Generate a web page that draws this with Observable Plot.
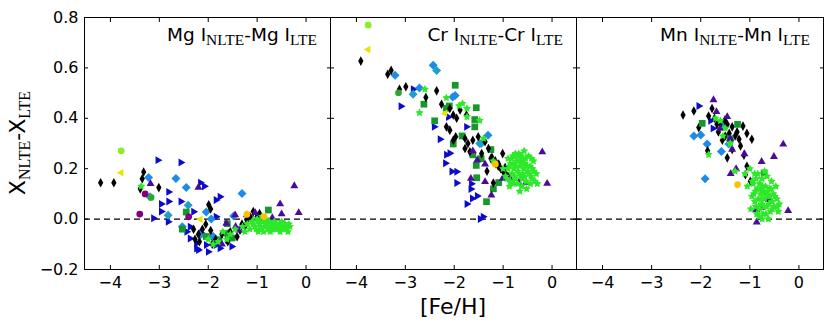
<!DOCTYPE html>
<html><head><meta charset="utf-8">
<script src="https://cdn.jsdelivr.net/npm/d3@7"></script>
<script src="https://cdn.jsdelivr.net/npm/@observablehq/plot@0.6"></script>
<style>
body{margin:0;background:#fff;}
#wrap{position:relative;width:830px;height:324px;}
.panel{position:absolute;top:0;}
.panel svg{overflow:visible;}
</style></head><body><div id="wrap"></div>
<script>
// ---------- ticks ----------
const xTicks = [-4, -3, -2, -1, 0];
const yTicks = [-0.2, 0.0, 0.2, 0.4, 0.6, 0.8];
const xDomain = [-4.53, 0.5];
const yDomain = [-0.2, 0.8];
const panelTitles = [["Mg I", "NLTE", "-Mg I", "LTE"], ["Cr I", "NLTE", "-Cr I", "LTE"], ["Mn I", "NLTE", "-Mn I", "LTE"]];

// ---------- Mg panel ----------
const mgBlack = [[-4.20,0.144],[-3.93,0.144],[-3.32,0.187],[-3.39,0.120],[-3.01,0.125],[-3.35,0.16],[-1.99,0.057],[-1.95,0.04],
 [-2.30,-0.040],[-2.20,-0.060],[-2.27,-0.080],[-1.95,-0.045],[-1.92,-0.100],[-1.72,-0.060],[-2.18,-0.090],[-2.12,-0.040],[-2.05,-0.02],[-1.85,-0.08],
 [-1.21,-0.004],[-1.08,0.030],[-0.95,0.022],[-1.35,-0.044],[-1.41,-0.070],[-1.31,-0.020],[-1.15,0.01],[-1.00,0.01],[-1.25,-0.03],[-1.6,-0.09],[-1.55,-0.05]];
const mgBlueTri = [[-3.03,0.234],[-2.56,0.225],[-2.16,0.144],[-2.08,0.130],[-2.81,0.108],[-1.76,0.089],[-1.84,0.076],[-2.96,0.060],[-2.81,0.070],
 [-2.56,0.070],[-2.96,0.030],[-2.30,0.029],[-3.12,0.003],[-1.84,0.009],[-2.82,-0.011],[-2.44,-0.050],[-2.37,-0.077],[-2.24,-0.097],[-2.20,-0.123],
 [-2.00,-0.130],[-1.76,-0.116],[-1.52,-0.109],[-2.04,-0.103],[-1.90,-0.069],[-2.37,-0.030],[-1.61,-0.082],[-2.14,-0.056],[-2.24,-0.117],[-1.84,-0.103]];
const mgLightBlue = [[-3.22,0.165],[-2.66,0.161],[-2.45,0.125],[-1.31,0.102],[-2.04,0.028],[-1.94,0.000],[-2.53,-0.030],[-2.16,-0.063],[-1.90,-0.069],[-1.48,0.012]];
const mgTeal = [[-3.19,0.089],[-2.41,0.055],[-2.82,0.015],[-1.58,-0.056]];
const mgPurpleCircle = [[-3.40,0.020],[-3.29,0.100],[-2.40,0.009]];
const mgGreenCircle = [[-3.17,0.086]];
const mgIndigo = [[-0.24,0.132],[-0.15,0.025],[-2.20,0.126],[-3.18,0.140],[-1.45,0.016],[-1.04,0.025],[-0.53,0.060],[-0.50,0.020],[-0.69,0.005],
 [-1.72,-0.100],[-1.44,-0.030],[-1.37,-0.044],[-1.63,-0.017],[-1.21,0.016]];
const mgGreenSquare = [[-0.77,0.036],[-2.53,-0.040],[-2.45,0.028],[-1.61,-0.018],[-1.61,-0.056],[-1.14,0.005],[-0.94,-0.004],[-2.04,-0.069],[-1.51,-0.075],[-1.78,-0.082]];
const mgStar = [[-1.10,-0.01],[-1.05,-0.03],[-1.00,0.00],[-0.95,-0.02],[-0.92,-0.04],[-0.88,-0.01],[-0.85,-0.03],[-0.82,0.00],[-0.80,-0.02],[-0.78,-0.04],
 [-0.75,-0.01],[-0.72,-0.03],[-0.70,-0.02],[-0.68,-0.04],[-0.65,-0.01],[-0.62,-0.03],[-0.60,-0.02],[-0.58,-0.04],[-0.55,-0.02],[-0.52,-0.03],[-0.50,-0.01],
 [-0.48,-0.04],[-0.45,-0.02],[-0.42,-0.03],[-0.40,-0.04],[-0.38,-0.03],[-0.35,-0.02],[-0.90,0.01],[-0.98,-0.05],[-1.15,-0.04],[-1.20,-0.02],[-1.25,-0.05],
 [-1.30,-0.03],[-1.55,-0.06],[-1.62,-0.08],[-1.70,-0.05],[-1.80,-0.09],[-1.45,-0.04],[-3.37,0.13],[-2.00,-0.08],[-1.90,-0.10],
 [-1.08,-0.02],[-1.02,-0.04],[-0.97,-0.01],[-0.93,-0.03],[-0.87,-0.05],[-0.83,-0.02],[-0.77,-0.03],[-0.73,-0.05],[-0.67,-0.02],[-0.63,-0.04],
 [-0.57,-0.03],[-0.53,-0.05],[-0.47,-0.03],[-0.43,-0.02],[-0.37,-0.05],[-0.33,-0.03]];
const mgYellowGreenCircle = [[-3.78,0.271]];
const mgYellowTri = [[-3.78,0.184],[-2.16,-0.001]];
const mgOrange = [[-1.21,0.019],[-0.86,0.010]];

// ---------- Cr panel ----------
const crBlack = [[-3.91,0.627],[-3.36,0.575],[-3.29,0.590],[-3.12,0.515],[-2.99,0.525],[-2.58,0.483],[-2.36,0.509],[-2.26,0.456],
 [-2.09,0.439],[-2.02,0.413],[-1.88,0.433],[-1.95,0.400],[-1.75,0.413],[-2.16,0.366],[-2.09,0.353],[-2.02,0.313],[-1.97,0.327],[-1.78,0.320],
 [-1.72,0.300],[-1.62,0.313],[-1.51,0.327],[-1.78,0.280],[-1.68,0.267],[-1.37,0.307],[-1.30,0.280],[-1.44,0.260],[-1.33,0.190],[-1.20,0.143],
 [-1.01,0.260],[-1.16,0.231],[-1.09,0.218],[-0.96,0.205],[-1.23,0.245],[-1.25,0.24],[-1.20,0.23],[-1.15,0.22],[-1.10,0.21],[-1.05,0.20],[-1.00,0.19],[-0.95,0.18],[-0.90,0.17]];
const crBlueTri = [[-3.09,0.448],[-2.84,0.515],[-2.41,0.366],[-2.29,0.317],[-2.12,0.405],[-2.16,0.255],[-2.09,0.261],[-2.18,0.222],[-2.05,0.189],
 [-1.95,0.188],[-1.95,0.143],[-1.66,0.119],[-1.63,0.082],[-1.53,0.092],[-1.74,0.060],[-1.47,0.000],[-1.41,0.009],[-1.75,0.366],[-1.65,0.14]];
const crLightBlue = [[-3.21,0.571],[-2.43,0.611],[-2.71,0.520],[-2.03,0.485],[-1.98,0.490],[-1.31,0.333]];
const crTeal = [[-2.84,0.495],[-2.36,0.590],[-1.48,0.300],[-1.45,0.30]];
const crGreenCircle = [[-3.14,0.501]];
const crGreenSquare = [[-1.98,0.531],[-2.62,0.456],[-2.40,0.390],[-2.16,0.440],[-2.10,0.449],[-1.84,0.330],[-1.55,0.442],[-1.58,0.395],[-1.58,0.366],
 [-1.25,0.276],[-1.55,0.213],[-1.54,0.164],[-1.34,0.069],[-1.09,0.145],[-1.62,0.255],[-2.02,0.298],[-1.45,0.24],[-1.2,0.12]];
const crIndigo = [[-0.20,0.266],[-0.10,0.141],[-1.66,0.161],[-1.37,0.148],[-1.24,0.095],[-1.37,0.218],[-1.53,0.234],[-1.62,0.270],[-1.01,0.161],
 [-0.84,0.155],[-0.68,0.145],[-0.53,0.145]];
const crStar = [[-0.90,0.20],[-0.85,0.22],[-0.82,0.18],[-0.80,0.25],[-0.78,0.20],[-0.75,0.16],[-0.72,0.23],[-0.70,0.19],[-0.68,0.26],[-0.65,0.21],
 [-0.63,0.17],[-0.60,0.24],[-0.58,0.20],[-0.55,0.22],[-0.53,0.15],[-0.50,0.19],[-0.48,0.25],[-0.45,0.21],[-0.43,0.17],[-0.40,0.20],[-0.38,0.23],
 [-0.35,0.15],[-0.32,0.18],[-0.30,0.14],[-0.85,0.15],[-0.95,0.17],[-0.90,0.24],[-0.62,0.13],[-0.57,0.27],[-0.66,0.11],[-0.75,0.26],[-0.70,0.14],
 [-1.00,0.20],[-0.52,0.12],[-0.42,0.24],[-0.60,0.18],[-0.80,0.14],
 [-0.88,0.21],[-0.83,0.24],[-0.77,0.17],[-0.73,0.21],[-0.67,0.18],[-0.64,0.23],[-0.61,0.16],[-0.59,0.22],[-0.56,0.17],[-0.54,0.24],[-0.51,0.21],
 [-0.47,0.18],[-0.44,0.14],[-0.41,0.16],[-0.37,0.19],[-0.92,0.16],[-0.87,0.13],[-0.63,0.25],[-0.71,0.25],[-0.79,0.22],
 [-2.71,0.422],[-2.60,0.515],[-2.16,0.481],[-1.83,0.459],[-1.74,0.439],[-1.48,0.391],[-1.74,0.406],[-1.90,0.45],[-1.40,0.32],[-1.20,0.23]];
const crYellowGreenCircle = [[-3.76,0.770]];
const crYellowTri = [[-3.76,0.673],[-2.19,0.419]];
const crOrange = [[-1.16,0.218]];

// ---------- Mn panel ----------
const mnBlack = [[-2.36,0.413],[-2.14,0.429],[-2.04,0.363],[-1.77,0.439],[-1.84,0.409],[-1.67,0.376],[-1.86,0.271],[-1.64,0.346],[-1.46,0.376],
 [-1.36,0.366],[-1.42,0.340],[-1.56,0.313],[-1.26,0.346],[-1.14,0.369],[-1.06,0.340],[-0.96,0.317],[-1.22,0.317],[-1.19,0.290],[-1.46,0.243],
 [-1.12,0.254],[-1.06,0.210],[-1.09,0.176],[-0.99,0.150],[-1.36,0.276],[-1.51,0.392],[-1.72,0.40],[-1.6,0.38],[-1.3,0.33],[-1.5,0.33]];
const mnLightBlue = [[-2.14,0.330],[-2.00,0.334],[-1.87,0.298],[-1.58,0.268],[-1.91,0.160]];
const mnTeal = [[-1.55,0.372],[-1.43,0.298]];
const mnBlueTri = [[-2.04,0.449],[-1.75,0.360],[-1.8,0.39]];
const mnGreenSquare = [[-1.97,0.380],[-1.25,0.376],[-0.71,0.183],[-1.40,0.319]];
const mnIndigo = [[-1.74,0.473],[-1.68,0.426],[-1.46,0.406],[-1.40,0.319],[-1.36,0.276],[-1.11,0.259],[-0.76,0.228],[-0.51,0.248],[-0.32,0.297],
 [-1.39,0.180],[-1.28,0.199],[-0.61,0.077],[-0.76,0.046],[-0.87,0.036],[-0.86,-0.012],[-0.22,0.033],[-1.6,0.36]];
const mnOrange = [[-1.25,0.137]];
const mnStar = [[-1.00,0.20],[-0.95,0.15],[-0.90,0.18],[-0.92,0.10],[-0.88,0.05],[-0.85,0.12],[-0.83,0.08],[-0.80,0.14],[-0.80,0.04],[-0.78,0.10],
 [-0.76,0.06],[-0.75,0.16],[-0.73,0.02],[-0.72,0.11],[-0.70,0.08],[-0.68,0.13],[-0.66,0.05],[-0.65,0.17],[-0.63,0.09],[-0.60,0.12],[-0.58,0.03],
 [-0.56,0.15],[-0.55,0.07],[-0.52,0.10],[-0.50,0.05],[-0.47,0.13],[-0.45,0.08],[-0.42,0.03],[-0.40,0.06],[-0.90,0.07],[-0.86,0.02],[-0.70,0.19],
 [-0.62,0.00],[-1.05,0.13],[-0.98,0.04],[-0.75,0.00],
 [-0.93,0.14],[-0.89,0.11],[-0.87,0.16],[-0.82,0.05],[-0.79,0.12],[-0.77,0.08],[-0.74,0.13],[-0.71,0.05],[-0.69,0.10],[-0.67,0.02],[-0.64,0.11],
 [-0.61,0.06],[-0.59,0.09],[-0.57,0.12],[-0.54,0.04],[-0.49,0.09],[-0.84,0.18],[-0.96,0.09],[-0.81,0.01],[-0.44,0.05],
 [-1.84,0.256],[-1.60,0.390],[-1.50,0.360],[-1.70,0.400],[-1.40,0.300],[-1.30,0.190],[-1.55,0.330],[-1.10,0.180]];

// ---------- symbols ----------
const R = s => Math.sqrt(s / Math.PI);
const sym = {
  thinDiamond: {draw(c, s) { const r = R(s); c.moveTo(0, -r); c.lineTo(r * 0.55, 0); c.lineTo(0, r); c.lineTo(-r * 0.55, 0); c.closePath(); }},
  diamond: {draw(c, s) { const r = R(s); c.moveTo(0, -r); c.lineTo(r, 0); c.lineTo(0, r); c.lineTo(-r, 0); c.closePath(); }},
  triRight: {draw(c, s) { const r = R(s); c.moveTo(r, 0); c.lineTo(-r * 0.5, -r * 0.866); c.lineTo(-r * 0.5, r * 0.866); c.closePath(); }},
  triLeft: {draw(c, s) { const r = R(s); c.moveTo(-r, 0); c.lineTo(r * 0.5, -r * 0.866); c.lineTo(r * 0.5, r * 0.866); c.closePath(); }},
  triUp: {draw(c, s) { const r = R(s); c.moveTo(0, -r); c.lineTo(r * 0.866, r * 0.5); c.lineTo(-r * 0.866, r * 0.5); c.closePath(); }},
  square: {draw(c, s) { const r = R(s) * 0.8; c.rect(-r, -r, 2 * r, 2 * r); }},
  circle: {draw(c, s) { const r = R(s); c.moveTo(r, 0); c.arc(0, 0, r, 0, 2 * Math.PI); }},
  star: {draw(c, s) { const r = R(s); const ri = r * 0.52;
    for (let i = 0; i < 10; i++) { const a = -Math.PI / 2 + i * Math.PI / 5; const rr = i % 2 ? ri : r;
      i ? c.lineTo(rr * Math.cos(a), rr * Math.sin(a)) : c.moveTo(rr * Math.cos(a), rr * Math.sin(a)); } c.closePath(); }}
};

const C = {black: "#000000", blue: "#0b0bcc", lightBlue: "#1e8ce6", teal: "#1fa0c8", purple: "#800080", indigo: "#4a0a9c",
  greenSq: "#17982c", star: "#2ee82a", yg: "#86f020", yellow: "#e6e600", orange: "#ffc000", greenCircle: "#2fa62f"};

function S(data, symbol, color, r) { return {data, symbol, color, r}; }

const panels = [
  [S(mgBlueTri, sym.triRight, C.blue, 4.6), S(mgLightBlue, sym.diamond, C.lightBlue, 4.5), S(mgTeal, sym.diamond, C.teal, 4.5),
   S(mgGreenSquare, sym.square, C.greenSq, 4.2), S(mgBlack, sym.thinDiamond, C.black, 4.8), S(mgIndigo, sym.triUp, C.indigo, 4.6),
   S(mgPurpleCircle, sym.circle, C.purple, 3.4), S(mgGreenCircle, sym.circle, C.greenCircle, 3.4), S(mgStar, sym.star, C.star, 4.2),
   S(mgYellowTri, sym.triLeft, C.yellow, 4.4), S(mgOrange, sym.circle, C.orange, 3.4), S(mgYellowGreenCircle, sym.circle, C.yg, 3.4)],
  [S(crBlueTri, sym.triRight, C.blue, 4.6), S(crLightBlue, sym.diamond, C.lightBlue, 4.5), S(crTeal, sym.diamond, C.teal, 4.5),
   S(crGreenSquare, sym.square, C.greenSq, 4.2), S(crBlack, sym.thinDiamond, C.black, 4.8), S(crIndigo, sym.triUp, C.indigo, 4.6),
   S(crGreenCircle, sym.circle, C.greenCircle, 3.4), S(crStar, sym.star, C.star, 4.2),
   S(crYellowTri, sym.triLeft, C.yellow, 4.4), S(crOrange, sym.circle, C.orange, 3.4), S(crYellowGreenCircle, sym.circle, C.yg, 3.4)],
  [S(mnBlueTri, sym.triRight, C.blue, 4.6), S(mnLightBlue, sym.diamond, C.lightBlue, 4.5), S(mnTeal, sym.diamond, C.teal, 4.5),
   S(mnBlack, sym.thinDiamond, C.black, 4.8), S(mnGreenSquare, sym.square, C.greenSq, 4.2), S(mnIndigo, sym.triUp, C.indigo, 4.6),
   S(mnStar, sym.star, C.star, 4.2), S(mnOrange, sym.circle, C.orange, 3.4)]
];

const layout = [{left: 0, width: 330, ml: 84}, {left: 330, width: 246, ml: 0}, {left: 576, width: 247, ml: 0}];
const wrap = document.getElementById("wrap");
const empty = () => "";

panels.forEach((series, i) => {
  const L = layout[i];
  const first = i === 0;
  const plot = Plot.plot({
    width: L.width, height: 324,
    marginLeft: L.ml, marginRight: 0, marginTop: 17, marginBottom: 55,
    style: {fontFamily: "DejaVu Sans", fontSize: "16px", background: "transparent", color: "black", overflow: "visible"},
    x: {domain: xDomain},
    y: {domain: yDomain},
    marks: [
      Plot.ruleY([0], {stroke: "black", strokeDasharray: "6,4", strokeWidth: 1.2}),
      ...series.map(s => Plot.dot(s.data, {x: d => d[0], y: d => d[1], symbol: s.symbol, r: s.r, fill: s.color, stroke: "none"})),
      Plot.frame({stroke: "black"}),
      Plot.axisX({anchor: "bottom", ticks: xTicks, tickSize: -4, tickPadding: 11, tickFormat: d3.format("d"), label: null}),
      Plot.axisX({anchor: "top", ticks: xTicks, tickSize: -4, tickPadding: 0, tickFormat: empty, label: null}),
      Plot.axisY({anchor: "left", ticks: yTicks, tickSize: -4, tickPadding: first ? 10 : 0, tickFormat: first ? d3.format(".1f") : empty, label: null}),
      Plot.axisY({anchor: "right", ticks: yTicks, tickSize: -4, tickPadding: 0, tickFormat: empty, label: null})
    ]
  });
  const div = document.createElement("div");
  div.className = "panel";
  div.style.left = L.left + "px";
  div.appendChild(plot);
  wrap.appendChild(div);
  const svg = d3.select(plot);
  // panel title with subscripts
  const t = panelTitles[i];
  const txt = svg.append("text").attr("x", L.width - 13).attr("y", 41).attr("text-anchor", "end")
    .attr("font-family", "DejaVu Sans").attr("font-size", 18.5).attr("fill", "black");
  txt.append("tspan").text(t[0]);
  txt.append("tspan").attr("dy", 4).attr("font-family", "Liberation Serif").attr("font-size", 15.5).text(t[1]);
  txt.append("tspan").attr("dy", -4).text(t[2]);
  txt.append("tspan").attr("dy", 4).attr("font-family", "Liberation Serif").attr("font-size", 15.5).text(t[3]);
  if (first) {
    const yl = svg.append("text").attr("transform", "translate(25,143) rotate(-90)").attr("text-anchor", "middle")
      .attr("font-family", "DejaVu Sans").attr("font-size", 22).attr("fill", "black");
    yl.append("tspan").text("X");
    yl.append("tspan").attr("dy", 5).attr("font-family", "Liberation Serif").attr("font-size", 16).text("NLTE");
    yl.append("tspan").attr("dy", -5).text("-X");
    yl.append("tspan").attr("dy", 5).attr("font-family", "Liberation Serif").attr("font-size", 16).text("LTE");
  }
  if (i === 1) {
    svg.append("text").attr("x", L.width / 2).attr("y", 314).attr("text-anchor", "middle")
      .attr("font-family", "DejaVu Sans").attr("font-size", 22).attr("fill", "black").text("[Fe/H]");
  }
});
</script></body></html>
